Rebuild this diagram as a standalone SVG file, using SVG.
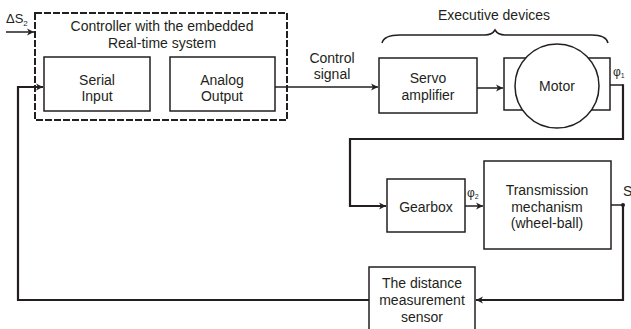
<svg xmlns="http://www.w3.org/2000/svg" width="631" height="329" viewBox="0 0 631 329">
<defs>
<style>
.t{font-family:"Liberation Sans",Arial,sans-serif;font-size:14px;fill:#231f20;text-anchor:middle}
.s{font-family:"Liberation Sans",Arial,sans-serif;fill:#231f20}
.b{fill:#fff;stroke:#231f20;stroke-width:1.5}
.c{fill:none;stroke:#231f20;stroke-width:1.5}
.f{fill:none;stroke:#231f20;stroke-width:2.2}
</style>
<marker id="a" viewBox="0 0 8 8" refX="7" refY="4" markerWidth="8" markerHeight="8" markerUnits="userSpaceOnUse" orient="auto">
<path d="M0,0.5 L7,4 L0,7.5 L2,4 Z" fill="#231f20"/>
</marker>
</defs>
<rect width="631" height="329" fill="#fff"/>

<g id="controller">
<rect x="35" y="13" width="252" height="107" fill="none" stroke="#231f20" stroke-width="2" stroke-dasharray="7,2"/>
<text class="t" x="162" y="31">Controller with the embedded</text>
<text class="t" x="162" y="48">Real-time system</text>
</g>
<g id="serial-input">
<rect class="b" x="44" y="57" width="106" height="54"/>
<text class="t" x="97" y="85">Serial</text>
<text class="t" x="97" y="101">Input</text>
</g>
<g id="analog-output">
<rect class="b" x="170" y="57" width="105" height="54"/>
<text class="t" x="222" y="85">Analog</text>
<text class="t" x="222" y="101">Output</text>
</g>
<g id="executive-devices">
<text class="t" x="494" y="20">Executive devices</text>
<path class="c" d="M382,43 Q384,35 400,35 L485,35 Q492,35 495,30 Q498,35 505,35 L592,35 Q606,35 608,43"/>
</g>
<g id="servo-amplifier">
<rect class="b" x="379" y="58" width="98" height="55"/>
<text class="t" x="428" y="83">Servo</text>
<text class="t" x="428" y="100">amplifier</text>
</g>
<g id="motor">
<rect class="b" x="504" y="58" width="106" height="52"/>
<circle cx="557" cy="86" r="42" fill="#fff" stroke="#231f20" stroke-width="1.5"/>
<text class="t" x="557" y="91">Motor</text>
</g>
<g id="gearbox">
<rect class="b" x="387" y="179" width="78" height="53"/>
<text class="t" x="426" y="212">Gearbox</text>
</g>
<g id="transmission">
<rect class="b" x="484" y="161" width="127" height="88"/>
<text class="t" x="547" y="195">Transmission</text>
<text class="t" x="547" y="212">mechanism</text>
<text class="t" x="547" y="228">(wheel-ball)</text>
</g>
<g id="sensor">
<rect class="b" x="369" y="267" width="106" height="70"/>
<text class="t" x="422" y="288">The distance</text>
<text class="t" x="422" y="305">measurement</text>
<text class="t" x="422" y="322">sensor</text>
</g>

<g id="connectors">
<path class="c" d="M6,32 L34,32" marker-end="url(#a)"/>
<path class="c" d="M275,87 L378,87" marker-end="url(#a)"/>
<path class="c" d="M477,88 L503,88" marker-end="url(#a)"/>
<path class="c" d="M610,85 L623,85"/>
<path class="f" d="M623,84.3 L623,139 L350,139 L350,206 L386,206" marker-end="url(#a)"/>
<path class="c" d="M465,206 L483,206" marker-end="url(#a)"/>
<path class="c" d="M611,205 L623,205"/>
<circle cx="623" cy="205" r="2" fill="#231f20"/>
<path class="f" d="M623,205 L623,300 L476,300" marker-end="url(#a)"/>
<path class="f" d="M369,300 L18,300 L18,87 L43,87" marker-end="url(#a)"/>
</g>

<g id="labels">
<text class="s" x="6" y="23" font-size="13">ΔS<tspan font-size="8" dy="3">2</tspan></text>
<text class="t" x="332" y="63">Control</text>
<text class="t" x="332" y="79">signal</text>
<text class="s" x="613" y="76" font-size="12">φ<tspan font-size="7" dy="2">1</tspan></text>
<text class="s" x="467" y="197" font-size="12">φ<tspan font-size="7" dy="2">2</tspan></text>
<text class="s" x="623" y="196" font-size="14">S</text>
</g>
</svg>
